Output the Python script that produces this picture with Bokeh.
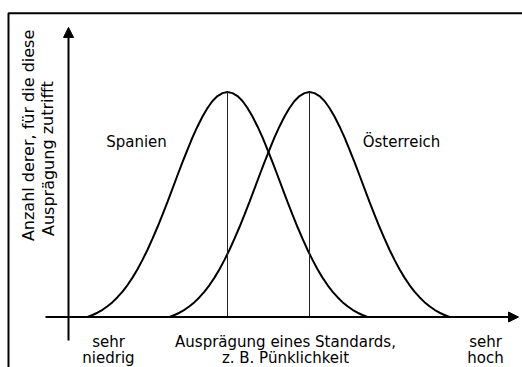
from bokeh.plotting import figure
from bokeh.models import Range1d, Arrow, NormalHead, Label, BoxAnnotation
from bokeh.embed import file_html
from bokeh.resources import INLINE

# Shape of the distribution: distance from the mean (scale units) and share of the peak (%)
profile_offset = [0.0, 0.5, 1.0, 1.5, 2.0, 2.5, 3.0, 3.5, 4.0, 4.5, 5.0, 5.5, 6.0, 6.5,
                  7.0, 7.5, 8.0, 8.5, 9.0, 9.5, 10.0, 10.5, 11.0, 11.5, 12.0, 12.5,
                  13.0, 13.5, 14.0]
profile_height = [100.0, 99.5, 98.2, 96.0, 92.9, 89.1, 84.7, 79.8, 74.4, 68.8, 63.0,
                  57.1, 51.2, 45.5, 40.0, 34.8, 29.9, 25.4, 21.2, 17.5, 14.2, 11.3,
                  8.8, 6.6, 4.8, 3.2, 1.9, 0.9, 0.0]

# Two cultures, same spread, different mean expression of the standard
countries = ["Spanien", "Österreich"]
means = [15.9, 24.1]

# Axis texts
y_title = ["Anzahl derer, für die diese", "Ausprägung zutrifft"]
x_title = ["Ausprägung eines Standards,", "z. B. Pünklichkeit"]
x_low = ["sehr", "niedrig"]
x_high = ["sehr", "hoch"]

FONT = "DejaVu Sans"
SIZE = "15px"

p = figure(width=522, height=367,
           x_range=Range1d(-6.8, 45.4), y_range=Range1d(-22.44, 140.67),
           x_axis_type=None, y_axis_type=None,
           output_backend="svg", toolbar_location=None, min_border=0)
p.grid.visible = False
p.outline_line_color = None
p.background_fill_color = "white"
p.border_fill_color = "white"

# Frame around the figure
p.add_layout(BoxAnnotation(left=-6.0, top=135.0, right=60, bottom=-40,
                           fill_alpha=0, line_color="black", line_alpha=1.0,
                           line_width=2))

# Bell curves and their mean lines
for name, m in zip(countries, means):
    left_x = [m - o for o in reversed(profile_offset[1:])]
    right_x = [m + o for o in profile_offset]
    xs = left_x + right_x
    ys = list(reversed(profile_height[1:])) + profile_height
    p.line(xs, ys, line_color="black", line_width=2)

p.segment(x0=means, y0=[0] * len(means), x1=means,
          y1=[profile_height[0]] * len(means), line_color="#222222", line_width=1)

# Axes drawn as arrows
p.add_layout(Arrow(x_start=0, y_start=-10.4, x_end=0, y_end=128.7,
                   line_width=2, line_color="black",
                   end=NormalHead(size=10, fill_color="black", line_color="black", line_width=1)))
p.add_layout(Arrow(x_start=-2.3, y_start=0, x_end=45.0, y_end=0,
                   line_width=2, line_color="black",
                   end=NormalHead(size=10, fill_color="black", line_color="black", line_width=1)))

def label(x, y, text, size=SIZE, **kw):
    p.add_layout(Label(x=x, y=y, text=text, text_font=FONT, text_font_size=size,
                       text_color="black", **kw))

# Curve names
label(6.8, 78.0, countries[0], text_align="center", text_baseline="middle")
label(33.3, 78.0, countries[1], text_align="center", text_baseline="middle")

# X axis texts
for i, y in enumerate([-10.9, -18.4]):
    label(4.0, y, x_low[i], text_align="center", text_baseline="alphabetic")
    label(21.7, y, x_title[i], text_align="center", text_baseline="alphabetic")
    label(41.7, y, x_high[i], text_align="center", text_baseline="alphabetic")

# Y axis title
label(-4.0, 80.7, y_title[0], size="16px",
      text_align="center", text_baseline="middle", angle=1.5708)
label(-2.05, 70.4, y_title[1], size="16px",
      text_align="center", text_baseline="middle", angle=1.5708)

open("out.html", "w").write(file_html(p, INLINE))
